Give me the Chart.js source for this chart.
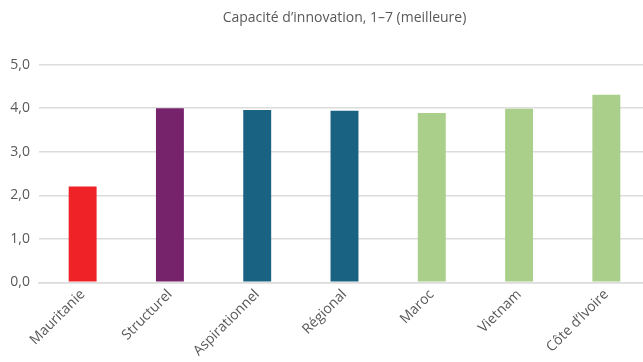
<!DOCTYPE html>
<html>
<head>
<meta charset="utf-8">
<script src="https://cdn.jsdelivr.net/npm/chart.js@4/dist/chart.umd.min.js"></script>
<style>
  html, body { margin: 0; padding: 0; background: #fff; overflow: hidden; }
  #wrap { position: relative; width: 650px; height: 362px; }
</style>
</head>
<body>
<div id="wrap"><canvas id="innovationChart"></canvas></div>
<script>
// Capacité d'innovation chart
const titleText = "Capacité d’innovation, 1–7 (meilleure)";
const categories = ["Mauritanie", "Structurel", "Aspirationnel", "Régional", "Maroc", "Vietnam", "Côte d’Ivoire"];
const scores = [2.2, 4.0, 3.96, 3.94, 3.89, 3.99, 4.31];
const barColors = ["#ee2227", "#76236c", "#1a6282", "#1a6282", "#a9cf8a", "#a9cf8a", "#a9cf8a"];
const yTicks = [0, 1, 2, 3, 4, 5];

(function () {
  "use strict";

  const fontFamily = "'Open Sans', 'Noto Sans', sans-serif";
  const textColor = "#595959";
  const gridColor = "#dcdcdc";

  // Title centred over the plot area rather than the whole canvas
  const plotTitle = {
    id: "plotTitle",
    afterDraw(chart) {
      const { ctx, chartArea } = chart;
      ctx.save();
      ctx.font = "14px " + fontFamily;
      ctx.fillStyle = textColor;
      ctx.textAlign = "center";
      ctx.textBaseline = "middle";
      ctx.fillText(titleText, (chartArea.left + chartArea.right) / 2, 18);
      ctx.restore();
    },
  };

  const ctx = document.getElementById("innovationChart");
  new Chart(ctx, {
    type: "bar",
    data: {
      labels: categories,
      datasets: [
        {
          data: scores,
          backgroundColor: barColors,
          borderWidth: 0,
          barPercentage: 0.32,
          categoryPercentage: 1,
        },
      ],
    },
    options: {
      responsive: true,
      maintainAspectRatio: false,
      animation: false,
      layout: { padding: { top: 64.7 } },
      plugins: {
        legend: { display: false },
        tooltip: { enabled: false },
        title: { display: false },
      },
      scales: {
        y: {
          min: yTicks[0],
          max: yTicks[yTicks.length - 1],
          afterBuildTicks: (axis) => {
            axis.ticks = yTicks.map((v) => ({ value: v }));
          },
          afterFit: (axis) => {
            axis.width = 39;
          },
          border: { display: false },
          grid: { color: gridColor, lineWidth: 1.5, drawTicks: false },
          ticks: {
            color: textColor,
            padding: 9,
            font: { family: fontFamily, size: 14 },
            callback: (v) => Number(v).toFixed(1).replace(".", ","),
          },
        },
        x: {
          afterFit: (axis) => {
            axis.height = 79.7;
          },
          border: { color: gridColor, width: 1.5 },
          grid: { display: false, drawTicks: false },
          ticks: {
            color: textColor,
            padding: 4,
            minRotation: 45,
            maxRotation: 45,
            autoSkip: false,
            font: { family: fontFamily, size: 14 },
          },
        },
      },
    },
    plugins: [plotTitle],
  });
})();
</script>
</body>
</html>
